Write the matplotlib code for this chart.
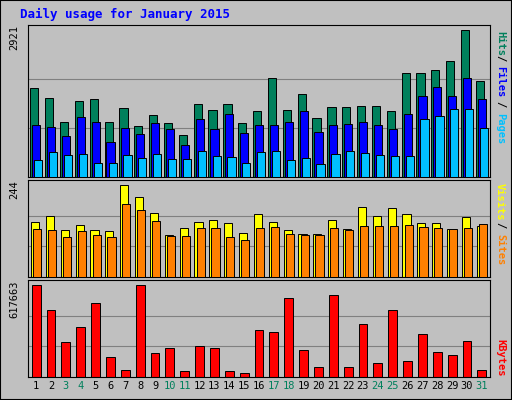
import matplotlib
matplotlib.use("Agg")
import matplotlib.pyplot as plt
import numpy as np

days = list(range(1, 32))
weekend = [3, 4, 10, 11, 17, 18, 24, 25, 31]
hits = [1768,1570,1093,1510,1550,1093,1371,1013,1232,1073,835,1451,1331,1451,1073,1311,1967,1331,1649,1172,1391,1391,1411,1411,1311,2066,2066,2126,2305,2921,1907]
files = [1033,993,815,1192,1093,695,974,854,1073,954,636,1152,954,1252,874,1033,1033,1093,1311,894,1033,1053,1093,1033,954,1252,1609,1788,1609,1967,1550]
pages = [338,497,437,457,278,278,437,378,457,358,358,517,417,397,278,497,517,338,378,258,457,517,477,437,417,417,1152,1212,1351,1351,974]
visits = [146,162,125,138,125,122,244,212,170,111,130,146,151,143,117,167,146,125,114,114,151,127,186,162,183,167,143,143,127,159,135]
sites = [127,125,106,122,111,106,194,178,149,109,109,130,130,106,98,130,133,114,111,111,130,125,135,135,135,138,133,130,127,130,141]
kbytes = [617663,449800,235000,335700,496800,134300,47000,617663,161100,194700,40300,208100,194700,40300,26900,315600,302100,530400,181300,67100,550500,67100,355800,94000,449800,107400,288700,167900,147700,241700,47000]
title = "Daily usage for January 2015"

BG = "#C0C0C0"
fig = plt.figure(figsize=(5.12, 4.0), dpi=100, facecolor=BG)
fig.patches.append(plt.Rectangle((0, 0), 1, 1, transform=fig.transFigure, fill=False, edgecolor="black", lw=1.5))
mono = "DejaVu Sans Mono"
fig.text(20/512, 1-14/400, title, color="#0000FF", fontsize=9, fontweight="bold", family=mono, va="center")

L, W = 28/512, 462/512
ax1 = fig.add_axes([L, 1-177/400, W, 152/400])
ax2 = fig.add_axes([L, 1-277/400, W, 97/400])
ax3 = fig.add_axes([L, 1-377/400, W, 97/400])
x = np.array(days)

def style(ax, top, scale):
    ax.set_facecolor(BG)
    ax.set_xlim(0.45, 31.55)
    ax.set_ylim(0, top*scale)
    for f in (1/3, 2/3):
        ax.axhline(top*f, color="#808080", lw=0.8, zorder=0)
    ax.set_yticks([])
    for s in ax.spines.values():
        s.set_color("black")

ew = dict(edgecolor="black", linewidth=0.7)
ax1.bar(x-0.125, hits, width=0.55, color="#00805C", **ew, zorder=2)
ax1.bar(x+0.005, files, width=0.55, color="#0000FF", **ew, zorder=3)
ax1.bar(x+0.145, pages, width=0.55, color="#00C0FF", **ew, zorder=4)
style(ax1, max(hits), 152/147)
ax2.bar(x-0.07, visits, width=0.55, color="#FFFF00", **ew, zorder=2)
ax2.bar(x+0.07, sites, width=0.55, color="#FF8000", **ew, zorder=3)
style(ax2, max(visits), 97/92)
ax3.bar(x, kbytes, width=0.6, color="#FF0000", **ew, zorder=2)
style(ax3, max(kbytes), 97/92)

for ax in (ax1, ax2):
    ax.set_xticks([])
ax3.set_xticks(days)
ax3.set_xticklabels([str(d) for d in days], family=mono, fontsize=7.5)
ax3.tick_params(length=0, pad=3)
for lbl, d in zip(ax3.get_xticklabels(), days):
    lbl.set_color("#00805C" if d in weekend else "black")

for ax, top in ((ax1, max(hits)), (ax2, max(visits)), (ax3, max(kbytes))):
    ax.text(-0.03, 1.0, str(top), transform=ax.transAxes, rotation=90, ha="center", va="top",
            family=mono, fontsize=7.5)

def rlabel(ax, parts):
    for txt, col, yf in parts:
        ax.text(1.022, yf, txt, transform=ax.transAxes, rotation=270, ha="center", va="center",
                color=col, family=mono, fontsize=7.5, fontweight="bold")

rlabel(ax1, [("Hits", "#00805C", 0.88), ("/", "black", 0.78), ("Files", "#0000FF", 0.63),
             ("/", "black", 0.48), ("Pages", "#00C0FF", 0.32)])
rlabel(ax2, [("Visits", "#FFFF00", 0.78), ("/", "black", 0.53), ("Sites", "#FF8000", 0.28)])
rlabel(ax3, [("KBytes", "#FF0000", 0.2)])

fig.savefig("out.png", dpi=100, facecolor=BG)
